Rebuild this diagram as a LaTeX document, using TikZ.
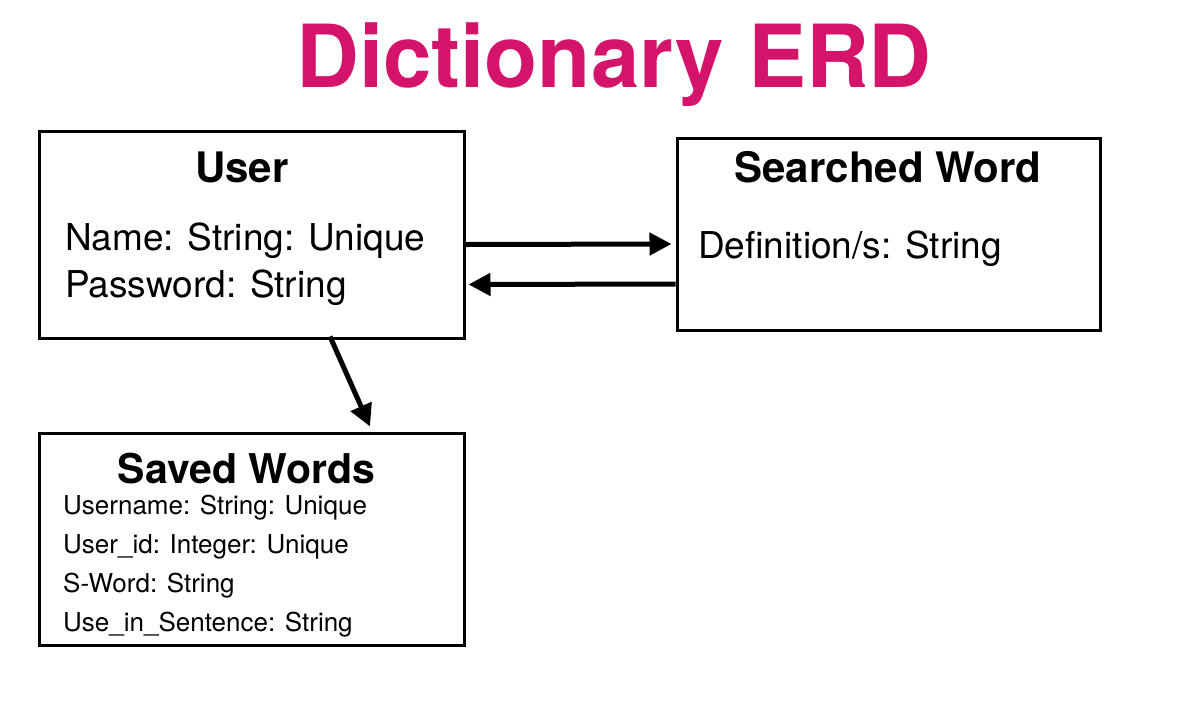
\documentclass[tikz,border=0pt]{standalone}
\usepackage{fontspec}
\setmainfont{TeX Gyre Heros}
\usepackage{tikz}
\usetikzlibrary{arrows.meta}
\definecolor{titlepink}{HTML}{D4146B}

\begin{document}
\begin{tikzpicture}[>={Triangle[length=22pt,width=22pt]},x=1pt,y=-1pt,
		entity/.style={draw,line width=3pt,rectangle,inner sep=0pt},
		head/.style={anchor=base,font=\fontsize{42}{48}\selectfont\bfseries},
		attr/.style={anchor=base west,inner sep=0pt,font=\fontsize{37}{44}\selectfont},
		small/.style={anchor=base west,inner sep=0pt,font=\fontsize{26}{31}\selectfont},
		link/.style={->,line width=5pt,black}]
		\useasboundingbox (0,0) rectangle (1183,710);

		\node[anchor=base,text=titlepink,font=\fontsize{87}{100}\selectfont\bfseries] (title) at (614,87) {Dictionary ERD};

		\node[entity,minimum width=425pt,minimum height=207pt] (user) at (251.5,234.5) {};
		\node[entity,minimum width=423pt,minimum height=192pt] (searched) at (888.5,234) {};
		\node[entity,minimum width=425pt,minimum height=212pt] (saved) at (251.5,539) {};

		% user
		\node[head] (userhead) at (242,182) {User};
		\node[attr] (username) at (65,250) {Name: String: Unique};
		\node[attr] (userpass) at (65,297) {Password: String};

		% searched word
		\node[head] (searchhead) at (888,182) {Searched Word};
		\node[attr] (searchdef) at (698,258) {Definition/s: String};

		% saved words
		\node[head,font=\fontsize{41}{48}\selectfont\bfseries] (savedhead) at (246.5,483) {Saved Words};
		\node[small] (savedname) at (63,514) {Username: String: Unique};
		\node[small] (savedid) at (63,553) {User\_id: Integer: Unique};
		\node[small] (savedword) at (63,592) {S-Word: String};
		\node[small] (savedsent) at (63,631) {Use\_in\_Sentence: String};

		\draw[link] ([yshift=-10pt]user.east) -- ([xshift=-4pt,yshift=-10pt]searched.west);
		\draw[link] ([yshift=-50pt]searched.west) -- ([xshift=3pt,yshift=-50pt]user.east);
		\draw[link] ([xshift=78.5pt,yshift=3pt]user.south) -- ([xshift=118.5pt,yshift=5pt]saved.north);

	\end{tikzpicture}
\end{document}
